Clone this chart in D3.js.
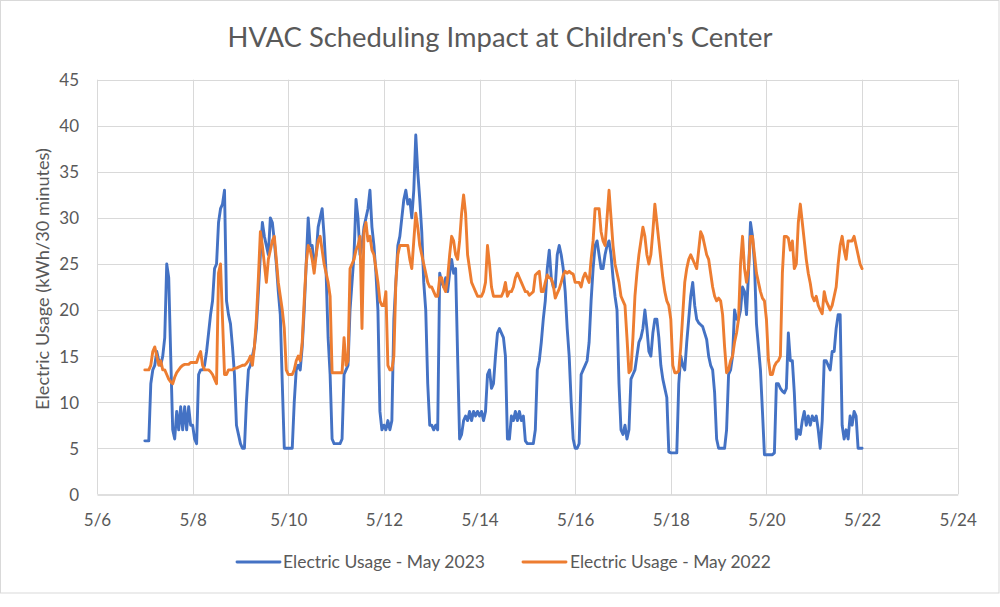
<!DOCTYPE html>
<html>
<head>
<meta charset="utf-8">
<script src="https://cdn.jsdelivr.net/npm/d3@7"></script>
<style>
  html, body { margin: 0; padding: 0; background: #ffffff; }
  svg { display: block; }
  text { font-family: Lato, "Open Sans", sans-serif; fill: #595959; }
</style>
</head>
<body>
<svg id="chart" width="1000" height="607"></svg>
<script>
// ---------- DATA (hourly readings, kWh per 30 minutes) ----------
const chartTitle = "HVAC Scheduling Impact at Children's Center";
const yAxisTitle = "Electric Usage (kWh/30 minutes)";
const seriesNames = ["Electric Usage - May 2023", "Electric Usage - May 2022"];
const dayNumbers = [7, 8, 9, 10, 11, 12, 13, 14, 15, 16, 17, 18, 19, 20, 21];
const xTickDays = [6, 8, 10, 12, 14, 16, 18, 20, 22, 24];
const xTickLabels = ["5/6", "5/8", "5/10", "5/12", "5/14", "5/16", "5/18", "5/20", "5/22", "5/24"];
const yTickValues = [0, 5, 10, 15, 20, 25, 30, 35, 40, 45];

// May 2023: one row per day (5/7 .. 5/21), 24 hourly values
const usage2023 = [
  [5.8,5.8,5.8,12,13.5,14,15.5,14.5,14,15,17,25,23.5,15,7,6,9,7,9.5,7,9.5,7,9.5,7.5],
  [7.5,6,5.5,13,13.5,13.5,14,15.5,17.5,19.5,21,24.5,25,29.5,31,31.5,33,21,19.5,18.5,16,13,7.5,6.5],
  [5.5,5,5,10,13.5,14,15,16,18,22,26,29.5,28,27,26,30,29.5,27.5,25,22,19.5,12,5,5],
  [5,5,5,10,13.5,14,13.5,16,20,25,30,27,27,25,26,29,30,31,28,24,17,13,6,5.5],
  [5.5,5.5,5.5,6,13,13.5,14,20,23,26,32,30,26,27,29,30,31,33,29,27,24,20,9,7],
  [7.5,7,8,7,8,19,23,27,28,30,32,33,31.5,32,30,33,39,35,32,28.5,23,20,12,7.5],
  [7.5,7,7.5,7,24,23,22.5,23.5,22,24,25.5,24,24.5,15,6,6.5,8,8.5,8,9,8,9,8.5,9],
  [8.5,9,8,9,13,13.5,11.5,12,15,17.5,18,17.5,17,15,6,6,8.5,8,9,8,9,8,8.5,5.8],
  [5.5,5.5,5.5,5.5,7,13.5,14.5,16.5,19,21,24.5,26.5,23.5,22.5,22.5,26,27,26,24.5,22,18,15,10,6],
  [5,5,5.5,13,13.5,14,14.5,16.5,21,24.5,27,27.5,26,24.5,24.5,26,27,27.5,26,23.5,21.5,20,12,7],
  [6.5,7.5,6,7,12.5,13,13.5,15,16.5,17,18,20,18,15.5,15,17.5,19,19,17,14,12.5,11.5,10.5,4.6],
  [4.5,4.5,4.5,4.5,12,15,14,13.5,16.5,19,21.5,23,20.5,19,18.6,18.4,18.2,17.5,16.8,15,14,13.5,11,6],
  [5,5,5,5,7,13,13.5,15,20,19,19,20,22.5,22,19.5,24,29.5,28,25,18.5,16,13.5,9,4.3],
  [4.3,4.3,4.3,4.3,4.5,12,12,11.5,11.2,11,11.5,17.5,14.5,14.5,11,6,7,6.5,8,9,7.5,8.5,7.5,8.5],
  [8,8.5,7,5,8,14.5,14.5,14,13.5,15.5,15.5,18,19.5,19.5,7.5,6,7,6,8.5,7.5,9,8.5,5,5]
];
const final2023 = 5;

// May 2022: one row per day (5/7 .. 5/21), 24 hourly values
const usage2022 = [
  [13.5,13.5,13.5,14,15.5,16,15,14,14.5,13.5,13.5,13,12.5,12.2,12,12.7,13.2,13.5,13.8,14,14.1,14.1,14.1,14.3],
  [14.3,14.3,14.3,15,15.5,14,13.5,13.5,13.5,13.3,13,12.5,12,24,25,19,13,13,13.5,13.5,13.5,13.7,13.7,13.8],
  [13.9,14,14,14.2,14.5,15,14,16,19,23.5,28.5,27,25,23,25.5,26.5,27.5,28,25.5,23,21.5,20,18,13.5],
  [13,13,13,13.5,14.5,15,14.5,16.5,21,25,27,26.5,25.5,24,26,27.5,28,26.5,25,24,23,21.5,13.2,13.2],
  [13.2,13.2,13.2,13.2,17,14,14.5,24.5,25,25.5,26.5,27,28,18,28.5,29.5,27.5,28,26.5,26,24.5,23,21,20.5],
  [20.5,22,14,13.5,13.5,15,23,26,27,27,27,27,27,25.5,24.5,27.5,30.5,29,27,26,25,24,23,22.5],
  [22.5,22,21.5,21.5,23.5,23.5,22.5,22,23.5,26,28,27.5,26,25.5,27.5,30.5,32.5,30.5,26,24.5,23,22.5,22,21.5],
  [21.5,21.5,22,23,27,25,22.5,21.5,21.5,21.5,21.5,21.5,22,23,21.5,22,22,22.5,23.5,24,23.5,23,22.5,22],
  [22,21.6,21.8,22,23.8,24,24.2,22,22,23,23.8,23.5,23.4,22.7,21.3,21.8,22.3,23,23.8,24.2,24,24.2,24,23.9],
  [23,23,23,22.5,23.5,24,23.5,23,25.5,27.5,31,31,31,28.5,27.5,27,30,33,30,27,25,24,23,21.5],
  [21,20.5,17,13.2,13.5,17,21.5,24,26,27.5,29,28,26,25,26,28.5,31.5,29.5,27.5,25.5,23.5,22,21,20.5],
  [19,14,13.2,13.2,13.4,16,19.5,23,24.5,25.5,26,25.5,25,24.5,26.5,28.5,28,27,26,25.5,24,22.5,21.5,21],
  [21.3,21,19.5,16,13.2,13.5,14.5,15,16.5,17.5,19,25,28,24.5,23,24.5,28,28,26,24,23,22,21.3,21],
  [19,14.6,13,13,13.9,14.3,14.5,15,24,28,28,27.8,26.5,27.5,24.5,25,29.5,31.5,29.5,27.5,25.5,24,22.9,21.5],
  [21,21.5,20.5,20,19.6,22,21,20.5,20,20.5,21.5,22.5,25,27,28,26.5,25.5,27.5,27.5,27.5,28,27,26,25]
];
const final2022 = 24.5;

// ---------- BUILD ----------
function toPoints(rows, finalValue) {
  const pts = [];
  rows.forEach((row, di) => {
    row.forEach((v, h) => pts.push({ t: dayNumbers[di] + h / 24, v: v }));
  });
  pts.push({ t: dayNumbers[dayNumbers.length - 1] + 1, v: finalValue });
  return pts;
}
const series = [
  { name: seriesNames[0], color: "#4472C4", points: toPoints(usage2023, final2023) },
  { name: seriesNames[1], color: "#ED7D31", points: toPoints(usage2022, final2022) }
];

const svg = d3.select("#chart");
const W = 1000, H = 607;
const plot = { left: 97, right: 957.7, top: 79.7, bottom: 494.3 };

// outer chart border
svg.append("rect")
  .attr("x", 0.5).attr("y", 0.5).attr("width", W - 1.5).attr("height", 592.5)
  .attr("fill", "#ffffff").attr("stroke", "#d9d9d9").attr("stroke-width", 1);

const x = d3.scaleLinear().domain([xTickDays[0], xTickDays[xTickDays.length - 1]]).range([plot.left, plot.right]);
const y = d3.scaleLinear().domain([0, 45]).range([plot.bottom, plot.top]);

// gridlines
const grid = svg.append("g");
grid.selectAll("line.h").data(yTickValues.filter(v => v > 0)).enter().append("line")
  .attr("x1", plot.left).attr("x2", plot.right)
  .attr("y1", d => Math.round(y(d)) + 0.5).attr("y2", d => Math.round(y(d)) + 0.5)
  .attr("stroke", "#d9d9d9").attr("stroke-width", 1);
grid.selectAll("line.v").data(xTickDays).enter().append("line")
  .attr("x1", d => Math.round(x(d)) + 0.5).attr("x2", d => Math.round(x(d)) + 0.5)
  .attr("y1", plot.top).attr("y2", plot.bottom)
  .attr("stroke", "#d9d9d9").attr("stroke-width", 1);

// x axis
const xAxis = d3.axisBottom(x).tickValues(xTickDays)
  .tickFormat((d, i) => xTickLabels[i]).tickSize(0).tickPadding(0);
const gx = svg.append("g").attr("transform", `translate(0,${Math.round(plot.bottom) + 0.5})`).call(xAxis);
gx.select(".domain").attr("stroke", "#bfbfbf").attr("stroke-width", 1);
gx.selectAll("text").attr("font-size", 17).attr("dy", null).attr("y", 31)
  .attr("fill", "#595959").style("font-family", "Lato, 'Open Sans', sans-serif");

// y axis
const yAxis = d3.axisLeft(y).tickValues(yTickValues).tickSize(0).tickPadding(0);
const gy = svg.append("g").attr("transform", `translate(${plot.left},0)`).call(yAxis);
gy.select(".domain").remove();
gy.selectAll("text").attr("font-size", 17).attr("x", -18).attr("dy", "0.35em")
  .attr("fill", "#595959").style("font-family", "Lato, 'Open Sans', sans-serif");

// lines
const line = d3.line().x(d => x(d.t)).y(d => y(d.v));
svg.append("g").selectAll("path").data(series).enter().append("path")
  .attr("d", d => line(d.points))
  .attr("fill", "none")
  .attr("stroke", d => d.color)
  .attr("stroke-width", 2.9)
  .attr("stroke-linejoin", "round")
  .attr("stroke-linecap", "round");

// text fitting helper
function fitWidth(sel, target, base) {
  sel.attr("font-size", base);
  const len = sel.node().getComputedTextLength();
  if (len > 0) sel.attr("font-size", base * target / len);
}

// title
const title = svg.append("text").attr("x", 500).attr("y", 47).attr("text-anchor", "middle")
  .attr("fill", "#595959").text(chartTitle);
fitWidth(title, 545, 26);

// y axis title
const yt = svg.append("text")
  .attr("transform", "translate(49,279) rotate(-90)")
  .attr("text-anchor", "middle").attr("fill", "#595959").text(yAxisTitle);
fitWidth(yt, 262, 18);

// legend
const legendItems = [
  { s: series[0], x1: 237, x2: 280, tx: 283, w: 202 },
  { s: series[1], x1: 523, x2: 566, tx: 570, w: 201 }
];
const lg = svg.append("g");
legendItems.forEach(it => {
  lg.append("line").attr("x1", it.x1).attr("x2", it.x2).attr("y1", 562).attr("y2", 562)
    .attr("stroke", it.s.color).attr("stroke-width", 2.9).attr("stroke-linecap", "round");
  const t = lg.append("text").attr("x", it.tx).attr("y", 562).attr("dy", "0.35em")
    .attr("fill", "#595959").text(it.s.name);
  fitWidth(t, it.w, 17);
});
</script>
</body>
</html>
